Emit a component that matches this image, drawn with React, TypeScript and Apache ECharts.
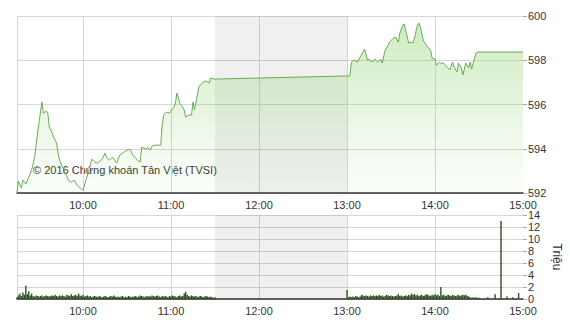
import React, { useEffect, useRef } from "react";
import * as echarts from "echarts";

// Intraday index (points), sampled at the minute each move was recorded
const priceTimes = [
  "09:15", "09:16", "09:18", "09:19", "09:21", "09:23", "09:25", "09:27", "09:29", "09:32",
  "09:33", "09:35", "09:36", "09:37", "09:39", "09:40", "09:42", "09:43", "09:44", "09:46",
  "09:48", "09:50", "09:52", "09:54", "09:56", "09:59", "10:00", "10:02", "10:04", "10:06",
  "10:08", "10:10", "10:13", "10:15", "10:16", "10:18", "10:20", "10:23", "10:25", "10:28",
  "10:30", "10:32", "10:34", "10:36", "10:37", "10:39", "10:40", "10:43", "10:44", "10:46",
  "10:47", "10:49", "10:53", "10:54", "10:55", "10:57", "10:59", "11:01", "11:02", "11:03",
  "11:04", "11:06", "11:08", "11:09", "11:10", "11:12", "11:14", "11:15", "11:16", "11:18",
  "11:19", "11:20", "11:22", "11:24", "11:26", "11:27", "11:30",
  "13:00", "13:02", "13:03", "13:05", "13:07", "13:09", "13:12", "13:14", "13:15", "13:17",
  "13:19", "13:21", "13:23", "13:24", "13:26", "13:27", "13:29", "13:31", "13:33", "13:35",
  "13:36", "13:38", "13:39", "13:40", "13:42", "13:44", "13:45", "13:46", "13:48", "13:49",
  "13:50", "13:52", "13:53", "13:55", "13:57", "13:58", "14:00", "14:01", "14:03", "14:04",
  "14:06", "14:07", "14:09", "14:10", "14:12", "14:13", "14:15", "14:16", "14:18", "14:19",
  "14:21", "14:23", "14:24", "14:25", "14:27", "14:28", "14:29", "15:00",
];
const priceValues = [
  592.04, 592.53, 592.22, 592.58, 592.40, 592.71, 593.03, 593.62, 594.71, 596.11,
  595.61, 595.70, 595.61, 594.98, 594.71, 594.52, 594.25, 593.80, 593.48, 593.17,
  592.90, 592.58, 592.49, 592.58, 592.35, 592.17, 592.13, 592.58, 593.03, 593.53,
  593.39, 593.35, 593.53, 593.80, 593.62, 593.48, 593.62, 593.35, 593.71, 593.85,
  593.94, 593.98, 593.71, 593.57, 593.48, 593.39, 594.07, 593.98, 594.07, 593.94,
  594.12, 594.16, 594.16, 595.07, 595.52, 595.66, 595.61, 595.79, 595.88, 596.06,
  596.52, 596.06, 595.88, 595.75, 595.43, 595.52, 595.52, 596.11, 595.75, 596.43,
  596.79, 596.88, 597.01, 597.06, 596.97, 597.19, 597.15,
  597.29, 597.29, 597.92, 598.01, 597.92, 598.14, 598.51, 598.01, 598.05, 597.92,
  598.05, 597.92, 598.05, 597.87, 598.46, 598.55, 598.82, 598.96, 599.05, 598.82,
  599.23, 599.59, 599.64, 599.37, 598.78, 598.82, 598.78, 599.00, 599.59, 599.68,
  599.50, 598.91, 598.78, 598.60, 598.46, 598.10, 598.05, 597.78, 597.92, 597.87,
  597.87, 597.78, 597.65, 597.56, 597.92, 597.69, 597.47, 597.87, 597.65, 597.33,
  597.87, 597.65, 597.92, 597.60, 598.10, 598.33, 598.37, 598.37,
];

// Matched volume (million shares), one bar per minute
const morningStart = "09:15";
const morningVolume = [
  0.3, 0.6, 0.9, 0.5, 1.1, 0.7, 2.2, 0.8, 1.3, 0.6,
  0.9, 0.5, 0.4, 0.6, 0.5, 0.4, 0.5, 0.6, 0.4, 0.5,
  0.6, 0.5, 0.4, 0.5, 0.6, 0.5, 0.7, 0.5, 0.4, 0.6,
  0.5, 0.6, 0.5, 0.4, 0.7, 0.6, 0.5, 0.8, 0.5, 0.6,
  0.7, 0.5, 0.9, 0.6, 0.5, 0.7, 0.4, 0.5, 0.6, 0.4,
  0.5, 0.3, 0.4, 0.5, 0.4, 0.3, 0.5, 0.4, 0.3, 0.4,
  0.5, 0.4, 0.3, 0.4, 0.5, 0.4, 0.6, 0.4, 0.3, 0.4,
  0.3, 0.4, 0.5, 0.3, 0.4, 0.3, 0.5, 0.4, 0.3, 0.4,
  0.4, 0.5, 0.3, 0.4, 0.6, 0.5, 0.4, 0.3, 0.5, 0.4,
  0.5, 0.4, 0.6, 0.5, 0.4, 0.5, 0.6, 0.4, 0.3, 0.5,
  0.4, 0.5, 0.4, 0.3, 0.5, 0.4, 0.6, 0.5, 0.4, 0.3,
  0.5, 0.6, 0.4, 0.5, 0.9, 1.2, 0.7, 0.5, 0.4, 0.6,
  0.5, 0.4, 0.5, 0.3, 0.4, 0.5, 0.4, 0.3, 0.4, 0.5,
  0.4, 0.3, 0.4, 0.3, 0.2, 0.3,
];
const afternoonStart = "13:00";
const afternoonVolume = [
  1.5, 0.3, 0.4, 0.3, 0.4, 0.3, 0.5, 0.4, 0.3, 0.4,
  0.7, 0.6, 0.5, 0.6, 0.5, 0.4, 0.6, 0.5, 0.6, 0.5,
  0.6, 0.5, 0.7, 0.5, 0.6, 0.4, 0.5, 0.7, 0.6, 0.5,
  0.6, 0.5, 0.4, 0.5, 0.6, 0.8, 0.5, 0.6, 0.4, 0.5,
  0.6, 0.5, 0.7, 0.6, 0.9, 0.7, 0.8, 0.6, 0.7, 0.5,
  0.6, 0.7, 0.5, 0.6, 0.8, 0.7, 0.6, 0.5, 0.7, 0.6,
  0.8, 0.6, 0.7, 0.5, 2.0, 0.6, 0.7, 0.5, 0.6, 0.7,
  0.6, 0.5, 0.7, 0.6, 0.5, 0.6, 0.7, 0.5, 0.6, 0.7,
  0.6, 0.7, 0.5, 0.4, 0.3, 0.2, 0.3, 0.2, 0.3, 0.2,
  0.2,
];
const closingTimes = ["14:36", "14:41", "14:45", "14:49", "14:53", "14:57"];
const closingVolume = [0.3, 0.8, 13.0, 0.4, 0.3, 1.0];

// Axis marks
const sessionOpen = "09:15";
const sessionClose = "15:00";
const lunchBreak = ["11:30", "13:00"];
const hourLabels = ["10:00", "11:00", "12:00", "13:00", "14:00", "15:00"];
const gridHours = ["09:15", "10:00", "11:00", "12:00", "13:00", "14:00"];
const priceTicks = [592, 600, 2];
const volumeTicks = [0, 14, 2];

const FONT = "Arial, 'Liberation Sans', sans-serif";
const TEXT = "#333";
const GRID = "#d6d6d6";

const toMin = (t: string) => {
  const [h, m] = t.split(":").map(Number);
  return h * 60 + m;
};
const fmtMin = (v: number) =>
  `${Math.floor(v / 60)}:${String(Math.round(v % 60)).padStart(2, "0")}`;

export default function App() {
  const ref = useRef<HTMLDivElement>(null);

  useEffect(() => {
    if (!ref.current) return;
    const chart = echarts.init(ref.current, undefined, { renderer: "svg" });

    const priceData = priceTimes.map((t, i) => [toMin(t), priceValues[i]]);
    const volData: number[][] = [];
    morningVolume.forEach((v, i) => volData.push([toMin(morningStart) + i, v]));
    afternoonVolume.forEach((v, i) => volData.push([toMin(afternoonStart) + i, v]));
    closingTimes.forEach((t, i) => volData.push([toMin(t), closingVolume[i]]));

    const xAxisBase = (gridIndex: number) => ({
      type: "value" as const,
      gridIndex,
      min: toMin(sessionOpen),
      max: toMin(sessionClose),
      axisLine: { show: true, lineStyle: { color: "#333", width: 1.5 } },
      axisTick: { show: false, customValues: gridHours.map(toMin) },
      splitLine: { show: true, lineStyle: { color: GRID, width: 1 } },
      axisLabel: {
        customValues: hourLabels.map(toMin),
        formatter: (v: number) => fmtMin(v),
        color: TEXT,
        fontSize: 11,
        fontFamily: FONT,
        margin: 6,
      },
    });

    const yAxisBase = (gridIndex: number, ticks: number[]) => ({
      type: "value" as const,
      gridIndex,
      position: "right" as const,
      min: ticks[0],
      max: ticks[1],
      interval: ticks[2],
      axisLine: { show: false },
      axisTick: { show: true, length: 4, lineStyle: { color: "#aaa" } },
      splitLine: { show: true, lineStyle: { color: GRID, width: 1 } },
      axisLabel: { color: TEXT, fontSize: 11, fontFamily: FONT, margin: 5 },
    });

    const lunchArea = {
      silent: true,
      itemStyle: { color: "rgba(0,0,0,0.06)" },
      data: [[{ xAxis: toMin(lunchBreak[0]) }, { xAxis: toMin(lunchBreak[1]) }]],
    };

    chart.setOption({
      animation: false,
      backgroundColor: "#fff",
      grid: [
        { left: 17, right: 47, top: 16, height: 177, outerBoundsMode: "none", containLabel: false },
        { left: 17, right: 47, top: 215, height: 84, outerBoundsMode: "none", containLabel: false },
      ],
      xAxis: [xAxisBase(0), xAxisBase(1)],
      yAxis: [
        yAxisBase(0, priceTicks),
        {
          ...yAxisBase(1, volumeTicks),
          name: "Triệu",
          nameLocation: "middle",
          nameRotate: -90,
          nameGap: 27,
          nameTextStyle: { color: TEXT, fontSize: 12, fontFamily: FONT },
        },
      ],
      series: [
        {
          type: "line",
          xAxisIndex: 0,
          yAxisIndex: 0,
          data: priceData,
          symbol: "none",
          lineStyle: { color: "#69ab55", width: 1 },
          areaStyle: {
            origin: "start",
            color: new echarts.graphic.LinearGradient(0, 0, 0, 1, [
              { offset: 0, color: "rgba(130,205,95,0.55)" },
              { offset: 1, color: "rgba(150,215,115,0.04)" },
            ]),
          },
          markArea: lunchArea,
        },
        {
          type: "bar",
          xAxisIndex: 1,
          yAxisIndex: 1,
          data: volData,
          barWidth: 1.4,
          itemStyle: { color: "#2a521f" },
          markArea: lunchArea,
        },
      ],
      graphic: [
        {
          type: "text",
          left: 33,
          top: 164,
          silent: true,
          style: {
            text: "© 2016 Chứng khoán Tân Việt (TVSI)",
            fill: TEXT,
            font: `11px ${FONT}`,
          },
        },
      ],
    });

    return () => chart.dispose();
  }, []);

  return (
    <div
      ref={ref}
      style={{ position: "fixed", left: 0, top: 0, width: 570, height: 320 }}
    />
  );
}
